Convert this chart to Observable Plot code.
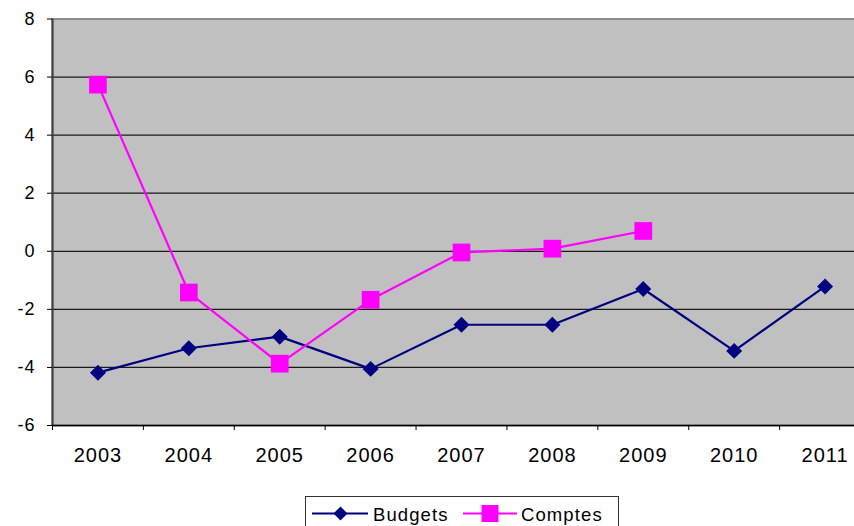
<!DOCTYPE html>
<html><head><meta charset="utf-8">
<script src="https://cdn.jsdelivr.net/npm/d3@7"></script>
<script src="https://cdn.jsdelivr.net/npm/@observablehq/plot@0.6"></script>
<style>
body{margin:0;background:#fff;font-family:"Liberation Sans",Arial,sans-serif;overflow:hidden;}
#wrap{position:relative;width:854px;height:526px;overflow:hidden;background:#fff;}
#chart svg{max-width:none !important;}
#chart svg text{letter-spacing:1px;}
#legend{position:absolute;left:305px;top:496px;width:314px;height:40px;border:1px solid #333;box-sizing:border-box;background:#fff;}
#legend svg{position:absolute;left:0;top:0;}
</style>
</head><body>
<div id="wrap"><div id="chart"></div>
<div id="legend"><svg width="314" height="40">
<line x1="6" x2="62" y1="16.5" y2="16.5" stroke="#000080" stroke-width="2"/>
<path d="M34.5,9.5L41.5,16.5L34.5,23.5L27.5,16.5Z" fill="#000080"/>
<text x="67" y="23.5" font-size="18.5" style="letter-spacing:1.1px" fill="#000">Budgets</text>
<line x1="157" x2="211" y1="16.5" y2="16.5" stroke="#ff00ff" stroke-width="2"/>
<rect x="175.5" y="8" width="17" height="17" fill="#ff00ff"/>
<text x="215" y="23.5" font-size="18.5" style="letter-spacing:1.1px" fill="#000">Comptes</text>
</svg></div>
</div>
<script>
const years = [2003, 2004, 2005, 2006, 2007, 2008, 2009, 2010, 2011];
const budgets = [-4.18, -3.34, -2.94, -4.05, -2.53, -2.53, -1.30, -3.43, -1.21];
const comptesYears = [2003, 2004, 2005, 2006, 2007, 2008, 2009];
const comptes = [5.74, -1.42, -3.87, -1.67, -0.04, 0.09, 0.70];
const yTicks = [-6, -4, -2, 0, 2, 4, 6, 8];

const bounds = years.map(y => y - 0.5).concat([years[years.length - 1] + 0.5]);
const budgetData = years.map((y, i) => ({year: y, value: budgets[i]}));
const comptesData = comptesYears.map((y, i) => ({year: y, value: comptes[i]}));

const svg = Plot.plot({
  width: 871,
  height: 480,
  marginLeft: 52,
  marginRight: 1,
  marginTop: 18.5,
  marginBottom: 55,
  x: {type: "linear", domain: [bounds[0], bounds[bounds.length - 1]]},
  y: {domain: [yTicks[0], yTicks[yTicks.length - 1]]},
  style: {fontFamily: "'Liberation Sans', Arial, sans-serif", color: "#000", background: "transparent"},
  marks: [
    Plot.frame({fill: "#c0c0c0", stroke: "#8c8c8c", strokeWidth: 2}),
    Plot.gridY(yTicks.slice(1, -1), {stroke: "#1a1a1a", strokeOpacity: 1, strokeWidth: 1.2}),
    Plot.ruleX([bounds[0]], {stroke: "#404040", strokeWidth: 2}),
    Plot.ruleY([yTicks[0]], {stroke: "#000", strokeWidth: 1.5}),
    Plot.axisY({ticks: yTicks, tickSize: 5, tickPadding: 12, fontSize: 18, label: null, tickFormat: d => String(d)}),
    Plot.axisX({ticks: years, tickSize: 0, tickPadding: 22, fontSize: 20, label: null, tickFormat: d => String(d)}),
    Plot.axisX({ticks: bounds, tickSize: 5, tickFormat: () => "", label: null}),
    Plot.line(budgetData, {x: "year", y: "value", stroke: "#000080", strokeWidth: 2.2}),
    Plot.dot(budgetData, {x: "year", y: "value", symbol: "diamond2", r: 7.2, fill: "#000080"}),
    Plot.line(comptesData, {x: "year", y: "value", stroke: "#ff00ff", strokeWidth: 2.2}),
    Plot.dot(comptesData, {x: "year", y: "value", symbol: "square", r: 10, fill: "#ff00ff"})
  ]
});
svg.style.maxWidth = "none";
svg.style.width = "871px";
document.getElementById("chart").appendChild(svg);
</script>
</body></html>
